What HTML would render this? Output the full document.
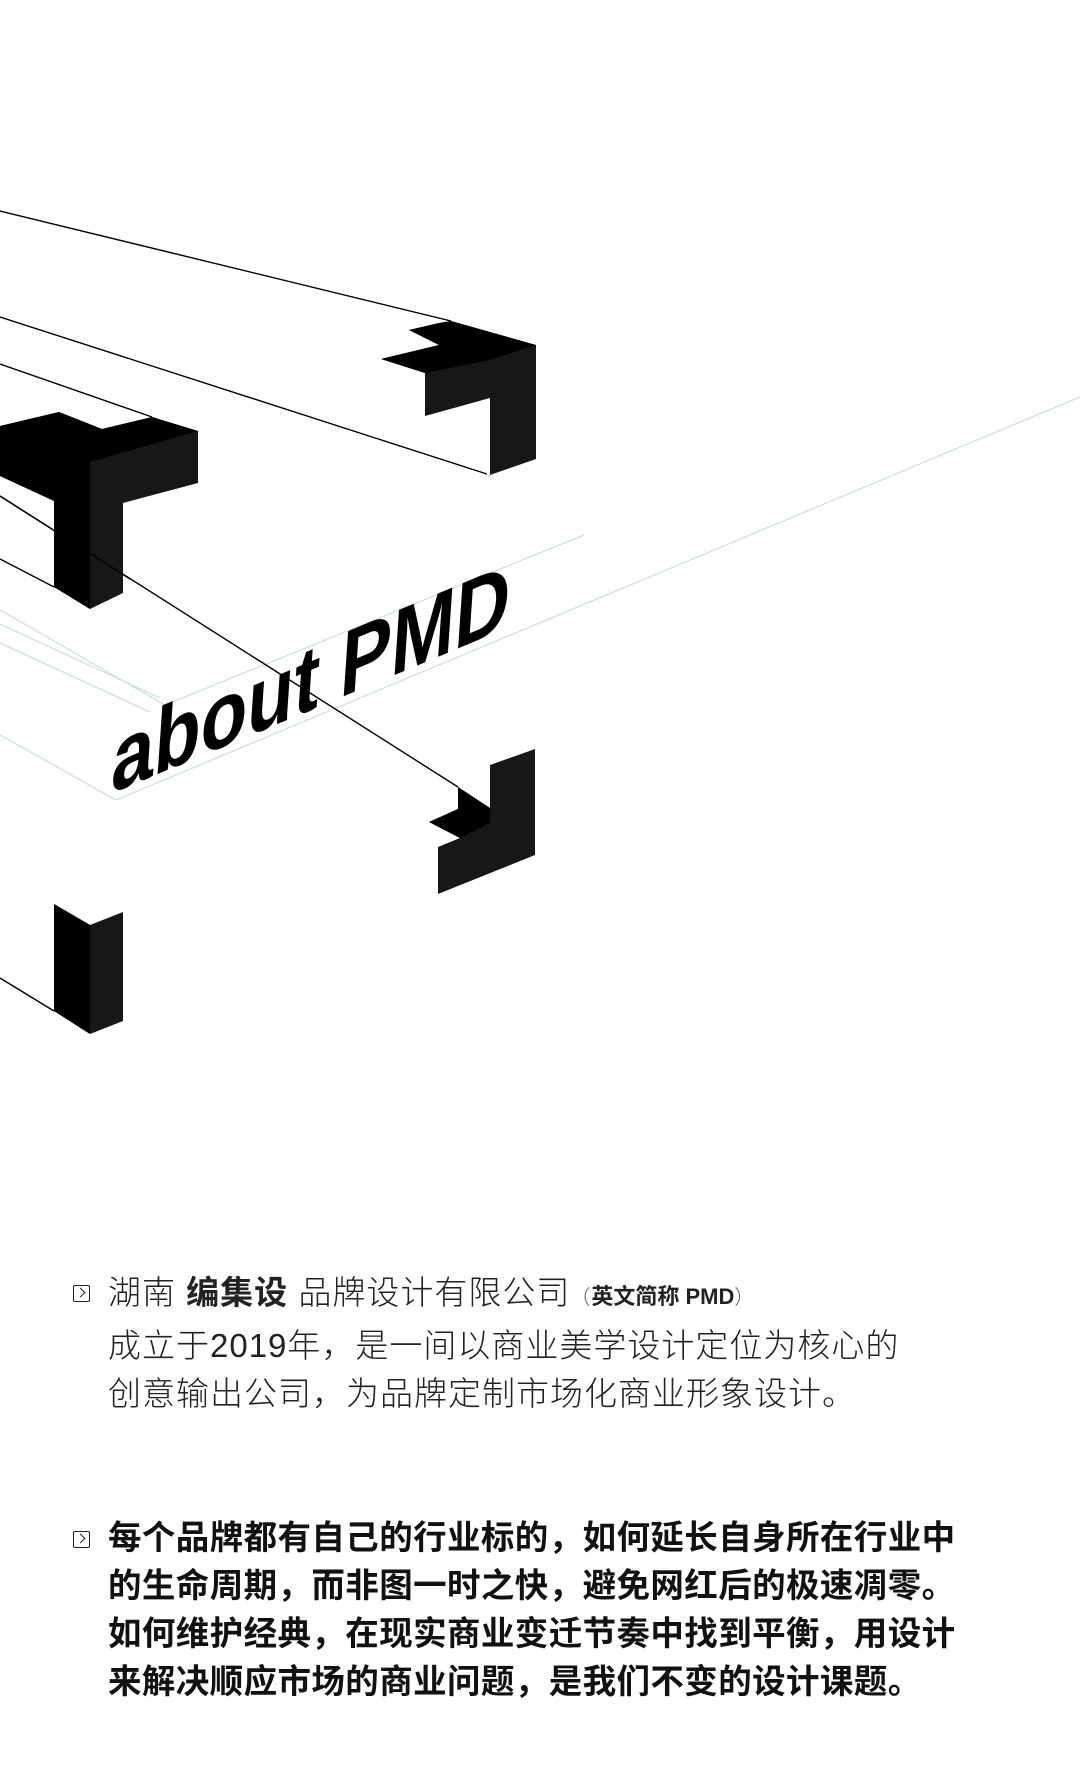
<!DOCTYPE html>
<html><head><meta charset="utf-8">
<style>
html,body{margin:0;padding:0;background:#fff;}
body{width:1080px;height:1776px;position:relative;overflow:hidden;font-family:"Liberation Sans","Noto Sans CJK SC",sans-serif;}
svg{position:absolute;left:0;top:0;}
.p{position:absolute;left:108px;color:#222;font-size:33px;letter-spacing:1px;white-space:nowrap;line-height:48px;}
.p1{top:1269px;font-weight:300;}
.p2{top:1515px;font-weight:700;color:#111;font-size:33.5px;letter-spacing:0.4px;}
.ic{position:absolute;left:73px;width:15px;height:15px;border:1.6px solid #222;border-radius:2px;}
.ic:after{content:"";position:absolute;left:3px;top:3px;width:6px;height:6px;border-top:1.6px solid #222;border-right:1.6px solid #222;transform:rotate(45deg);}
.sm{font-size:22px;font-weight:700;letter-spacing:0;}
.par{font-size:20px;color:#555;}
</style></head><body>
<svg width="1080" height="1776" viewBox="0 0 1080 1776">
 <g stroke="#cfe0e0" stroke-width="1.3" fill="none">
  <line x1="0" y1="610" x2="165" y2="705"/>
  <line x1="0" y1="624" x2="160" y2="698"/>
  <line x1="0" y1="643" x2="150" y2="712"/>
  <line x1="0" y1="735" x2="116" y2="800"/>
  <line x1="165" y1="705" x2="584" y2="535"/>
  <line x1="116" y1="800" x2="1080" y2="397"/>
 </g>
 <g stroke="#000" stroke-width="1.4" fill="none">
  <line x1="0" y1="211" x2="451" y2="321"/>
  <line x1="0" y1="317" x2="490" y2="475"/>
  <line x1="0" y1="364" x2="152" y2="417"/>
  <line x1="0" y1="496" x2="458" y2="787"/>
  <line x1="0" y1="559" x2="54" y2="587"/>
  <line x1="0" y1="978" x2="54" y2="1011"/>
 </g>
 <polygon fill="#171717" points="451,321 536,345 536,459 490,475 490,398 425,416 425,373 381,359 439,345 409,330 439,323"/>
 <polygon fill="#000" points="451,321 536,345 490,360 425,373 381,359 439,345 409,330 439,323"/>
 <polygon fill="#fff" points="490,398 490,475 487,475 487,399"/>
 <polygon fill="#171717" points="0,426 59,412 102,429 152,417 198,431 198,483 123,503 123,593 90,609 54,587 54,501 0,476"/>
 <polygon fill="#000" points="0,426 59,412 102,429 152,417 198,431 90,462 90,609 54,587 54,501 0,476"/>
 <line x1="0" y1="496" x2="130" y2="579" stroke="#000" stroke-width="1.4"/>
 <polygon fill="#171717" points="490,765 535,749 535,855 438,894 438,847 460,838 429,822 458,809 458,787 490,808"/>
 <polygon fill="#000" points="458,787 490,808 490,823 460,838 429,822 458,809"/>
 <polygon fill="#171717" points="54,904 90,925 123,912 123,1021 90,1034 54,1011"/>
 <polygon fill="#000" points="54,904 90,925 90,1034 54,1011"/>
 <g transform="translate(110,794) skewY(-22.7) skewX(-4)">
  <text x="0" y="0" font-family="Liberation Sans" font-weight="700" font-size="92" fill="#000" textLength="398" lengthAdjust="spacingAndGlyphs">about PMD</text>
 </g>
</svg>
<div class="ic" style="top:1285px"></div>
<div class="p p1">湖南 <b style="font-weight:700">编集设</b> 品牌设计有限公司<span class="par">（</span><span class="sm">英文简称 PMD</span><span class="par">）</span><br>成立于2019年，是一间以商业美学设计定位为核心的<br>创意输出公司，为品牌定制市场化商业形象设计。</div>
<div class="ic" style="top:1531px"></div>
<div class="p p2">每个品牌都有自己的行业标的，如何延长自身所在行业中<br>的生命周期，而非图一时之快，避免网红后的极速凋零。<br>如何维护经典，在现实商业变迁节奏中找到平衡，用设计<br>来解决顺应市场的商业问题，是我们不变的设计课题。</div>
</body></html>
